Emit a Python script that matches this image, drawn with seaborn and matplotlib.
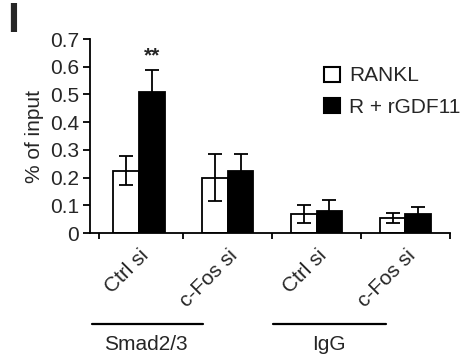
import matplotlib
matplotlib.use("Agg")
import matplotlib.pyplot as plt
import seaborn as sns
import pandas as pd
import numpy as np
from matplotlib.patches import Patch

categories = ["Ctrl si", "c-Fos si", "Ctrl si ", "c-Fos si "]
tick_labels = ["Ctrl si", "c-Fos si", "Ctrl si", "c-Fos si"]
series = ["RANKL", "R + rGDF11"]
rankl = [0.225, 0.20, 0.068, 0.055]
rankl_err = [0.052, 0.085, 0.032, 0.018]
rgdf = [0.51, 0.225, 0.078, 0.07]
rgdf_err = [0.08, 0.06, 0.042, 0.025]
groups = ["Smad2/3", "IgG"]
yticks = [0, 0.1, 0.2, 0.3, 0.4, 0.5, 0.6, 0.7]

sns.set_theme(style="ticks")
plt.rcParams['font.family'] = ['Liberation Sans', 'DejaVu Sans']
FS = 15

df = pd.DataFrame({
    "cat": categories * 2,
    "series": [series[0]] * 4 + [series[1]] * 4,
    "val": rankl + rgdf,
})

fig = plt.figure(figsize=(4.76, 3.58), dpi=100)
ax = fig.add_axes([0.189, 0.349, 0.756, 0.542])
sns.barplot(data=df, x="cat", y="val", hue="series", order=categories,
            hue_order=series, palette=["white", "black"], width=0.58,
            errorbar=None, edgecolor="black", linewidth=1.3, ax=ax, legend=False)

patches = [p for p in ax.patches]
vals = rankl + rgdf
errs = rankl_err + rgdf_err
for p, v, e in zip(patches, vals, errs):
    xc = p.get_x() + p.get_width() / 2
    ax.errorbar(xc, v, yerr=e, fmt="none", ecolor="black", elinewidth=1.3,
                capsize=5, capthick=1.3, zorder=5)

ax.text(patches[4].get_x() + patches[4].get_width() / 2, 0.605, "**",
        ha="center", va="bottom", fontsize=15, fontweight="bold")

ax.set_xlim(-0.55, 3.5)
ax.set_ylim(0, 0.7)
ax.set_yticks(yticks)
ax.set_yticklabels([f"{t:g}" for t in yticks], fontsize=FS)
ax.set_ylabel("% of input", fontsize=FS, labelpad=4)
ax.set_xlabel("")
ax.set_xticks(range(4))
ax.set_xticklabels(tick_labels, rotation=45, ha="right", rotation_mode="anchor",
                   fontsize=FS)
ax.tick_params(axis="x", which="major", length=0, pad=9)
ax.set_xticks([-0.45, 0.5, 1.5, 2.5, 3.5], minor=True)
ax.tick_params(axis="x", which="minor", length=4, width=1.3, color="black")
ax.tick_params(axis="y", length=5, width=1.3, color="black", pad=3)
for s in ["top", "right"]:
    ax.spines[s].set_visible(False)
for s in ["left", "bottom"]:
    ax.spines[s].set_linewidth(1.3)
    ax.spines[s].set_color("black")

fig.add_artist(plt.Line2D([92/476, 203/476], [1-324/358, 1-324/358],
                          color="black", lw=1.6))
fig.add_artist(plt.Line2D([273/476, 386/476], [1-324/358, 1-324/358],
                          color="black", lw=1.6))
fig.text(146/476, 1-345/358, groups[0], ha="center", va="center", fontsize=FS)
fig.text(329/476, 1-345/358, groups[1], ha="center", va="center", fontsize=FS)

handles = [Patch(facecolor="white", edgecolor="black", linewidth=1.5),
           Patch(facecolor="black", edgecolor="black", linewidth=1.5)]
fig.legend(handles, series, loc="upper left", bbox_to_anchor=(314/476, 1-56/358),
           frameon=False, fontsize=FS, handlelength=0.75, handleheight=0.75,
           handletextpad=0.45, labelspacing=0.6, borderpad=0)

fig.text(13/476, 1-21/358, "I", ha="center", va="center", fontsize=31,
         fontweight="bold")

fig.savefig("out.png", dpi=100)
